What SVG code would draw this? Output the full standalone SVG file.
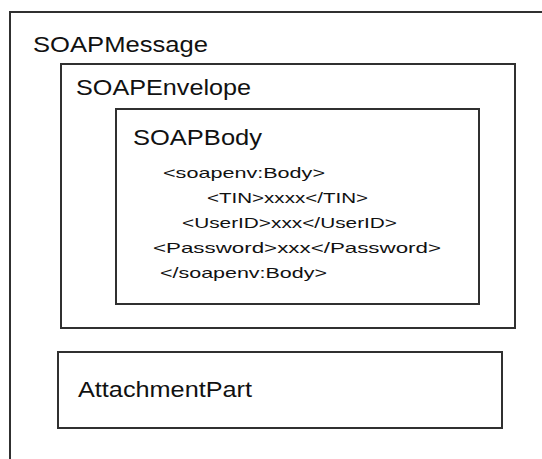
<svg xmlns="http://www.w3.org/2000/svg" width="542" height="459" viewBox="0 0 542 459">
<style>
.box{fill:none;stroke:#303030;stroke-width:2}
.h{font-family:"Liberation Sans",Arial,sans-serif;font-size:22px;fill:#111}
.b{font-family:"Liberation Sans",Arial,sans-serif;font-size:15px;fill:#111}
</style>
<rect width="542" height="459" fill="#fff"/>
<g id="soapmessage">
<rect class="box" x="10" y="12" width="600" height="500"/>
<text class="h" x="33" y="52" textLength="175" lengthAdjust="spacingAndGlyphs">SOAPMessage</text>
</g>
<g id="soapenvelope">
<rect class="box" x="61" y="64" width="454" height="264"/>
<text class="h" x="76" y="95" textLength="175" lengthAdjust="spacingAndGlyphs">SOAPEnvelope</text>
</g>
<g id="soapbody">
<rect class="box" x="116" y="109" width="363" height="195"/>
<text class="h" x="133" y="145" textLength="129" lengthAdjust="spacingAndGlyphs">SOAPBody</text>
<text class="b" x="163" y="178" textLength="162" lengthAdjust="spacingAndGlyphs">&lt;soapenv:Body&gt;</text>
<text class="b" x="207" y="203" textLength="161" lengthAdjust="spacingAndGlyphs">&lt;TIN&gt;xxxx&lt;/TIN&gt;</text>
<text class="b" x="182" y="228" textLength="215" lengthAdjust="spacingAndGlyphs">&lt;UserID&gt;xxx&lt;/UserID&gt;</text>
<text class="b" x="153" y="253" textLength="288" lengthAdjust="spacingAndGlyphs">&lt;Password&gt;xxx&lt;/Password&gt;</text>
<text class="b" x="160" y="278" textLength="167" lengthAdjust="spacingAndGlyphs">&lt;/soapenv:Body&gt;</text>
</g>
<g id="attachmentpart">
<rect class="box" x="58" y="352" width="444" height="76"/>
<text class="h" x="78" y="397" textLength="174" lengthAdjust="spacingAndGlyphs">AttachmentPart</text>
</g>
<g id="connectors"/>
</svg>
